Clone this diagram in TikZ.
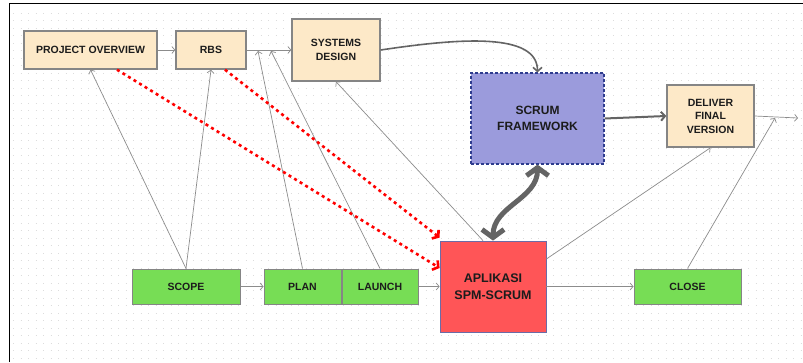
\documentclass[tikz,border=0pt]{standalone}
\usepackage{fontspec}
\setmainfont{Liberation Sans}
\usetikzlibrary{arrows.meta}

\definecolor{beige}{HTML}{FDE9C8}
\definecolor{leaf}{HTML}{77DD55}
\definecolor{lav}{HTML}{9B9BDC}
\definecolor{navyline}{HTML}{2E3C8E}
\definecolor{redbox}{HTML}{FF5557}
\definecolor{appline}{HTML}{6B6BA6}
\definecolor{boxline}{HTML}{858585}
\definecolor{connline}{HTML}{8C8C8C}
\definecolor{darkline}{HTML}{646464}
\definecolor{textdark}{HTML}{1C1C1C}
\definecolor{griddot}{HTML}{DCDCDC}

\tikzset{
    box/.style={draw=boxline, line width=1.4pt, inner sep=0pt, align=center,
        text=textdark, font=\fontsize{10.5}{14}\selectfont\bfseries},
    phase/.style={box, fill=beige},
    stage/.style={box, fill=leaf, line width=1pt, minimum height=35pt},
    scrumbox/.style={box, fill=lav, draw=navyline, line width=1.2pt,
        dash pattern=on 3pt off 2pt, font=\fontsize{12}{15.5}\selectfont\bfseries},
    appbox/.style={box, fill=redbox, draw=appline, line width=0.8pt,
        font=\fontsize{12.5}{16.5}\selectfont\bfseries},
    conn/.style={draw=connline, line width=0.7pt, -{Straight Barb[length=3pt,width=7pt]}},
    flow/.style={draw=darkline, line width=1.6pt, -{Straight Barb[length=4pt,width=9pt]}},
    reddots/.style={draw=red, line width=2.6pt, dash pattern=on 3pt off 3.5pt,
        -{Straight Barb[length=4pt,width=11pt]}},
    bigarrow/.style={draw=darkline, line width=5pt,
        {Straight Barb[length=8pt,width=22pt]}-{Straight Barb[length=8pt,width=22pt]}}
}

\begin{document}
\begin{tikzpicture}[x=1pt, y=1pt]
        % Setup the canvas
        \useasboundingbox (0,0) rectangle (803,362);
        \fill[white] (0,0) rectangle (803,362);
        \foreach \y in {4,11.5,...,356}
            \draw[griddot, line width=0.9pt, dash pattern=on 0.9pt off 6.6pt] (13,\y) -- (803,\y);
        \draw[black, line width=1.4pt] (9.5,0) -- (9.5,358.5) -- (803,358.5);

        % Top row of documents
        \node[phase, minimum width=133pt, minimum height=38pt] (po) at (90.5,312) {PROJECT OVERVIEW};
        \node[phase, minimum width=70pt, minimum height=38pt] (rbs) at (211,312) {RBS};
        \node[phase, minimum width=88pt, minimum height=62pt] (sd) at (336,312) {SYSTEMS\\DESIGN};
        \node[scrumbox, minimum width=133pt, minimum height=91pt] (scrum) at (537.5,243.5) {SCRUM\\FRAMEWORK};
        \node[phase, minimum width=87pt, minimum height=62pt, font=\fontsize{10.5}{13.5}\selectfont\bfseries] (dfv) at (710.5,246) {DELIVER\\FINAL\\VERSION};

        % Bottom row of phases
        \node[stage, minimum width=108pt] (scope) at (186,75.5) {SCOPE};
        \node[stage, minimum width=77pt] (plan) at (302.5,75.5) {PLAN};
        \node[stage, minimum width=76pt] (launch) at (380,75.5) {LAUNCH};
        \node[appbox, minimum width=106pt, minimum height=91pt] (apl) at (493,75.5) {APLIKASI\\SPM-SCRUM};
        \node[stage, minimum width=107pt] (close) at (687.5,75.5) {CLOSE};

        % Points where arrows join other lines
        \coordinate (j1) at (258,311);
        \coordinate (j2) at (271,311);
        \coordinate (j3) at (775,244);
        \coordinate (out) at (798,244);

        % Thin connectors
        \draw[conn] (po) -- (rbs);
        \draw[conn] (rbs) -- (sd);
        \draw[conn] (scope) -- (plan);
        \draw[conn] (launch) -- (apl);
        \draw[conn] (apl) -- (close);
        \draw[conn] (scope.north) -- (po.south);
        \draw[conn] (scope.north) -- (rbs.south);
        \draw[conn] (plan.north) -- (j1);
        \draw[conn] (launch.north) -- (j2);
        \draw[conn] ([xshift=-10pt]apl.north) -- (sd.south);
        \draw[conn] ([yshift=27.5pt]apl.east) -- (dfv.south);
        \draw[conn] (close.north) -- (j3);
        \draw[conn] (dfv.east) -- (out);

        % Main flow
        \draw[flow] (sd.east) .. controls +(80,12) and +(0,40) .. (scrum.north);
        \draw[flow, line width=2pt] (scrum.east) -- (dfv.west);
        \draw[bigarrow] (apl.north) to[out=90, in=-90] (scrum.south);

        % Red dotted links to the app
        \draw[reddots] ([xshift=26.5pt]po.south) -- ([yshift=18.5pt]apl.west);
        \draw[reddots] ([xshift=14pt]rbs.south) -- ([yshift=3pt]apl.north west);
\end{tikzpicture}
\end{document}
